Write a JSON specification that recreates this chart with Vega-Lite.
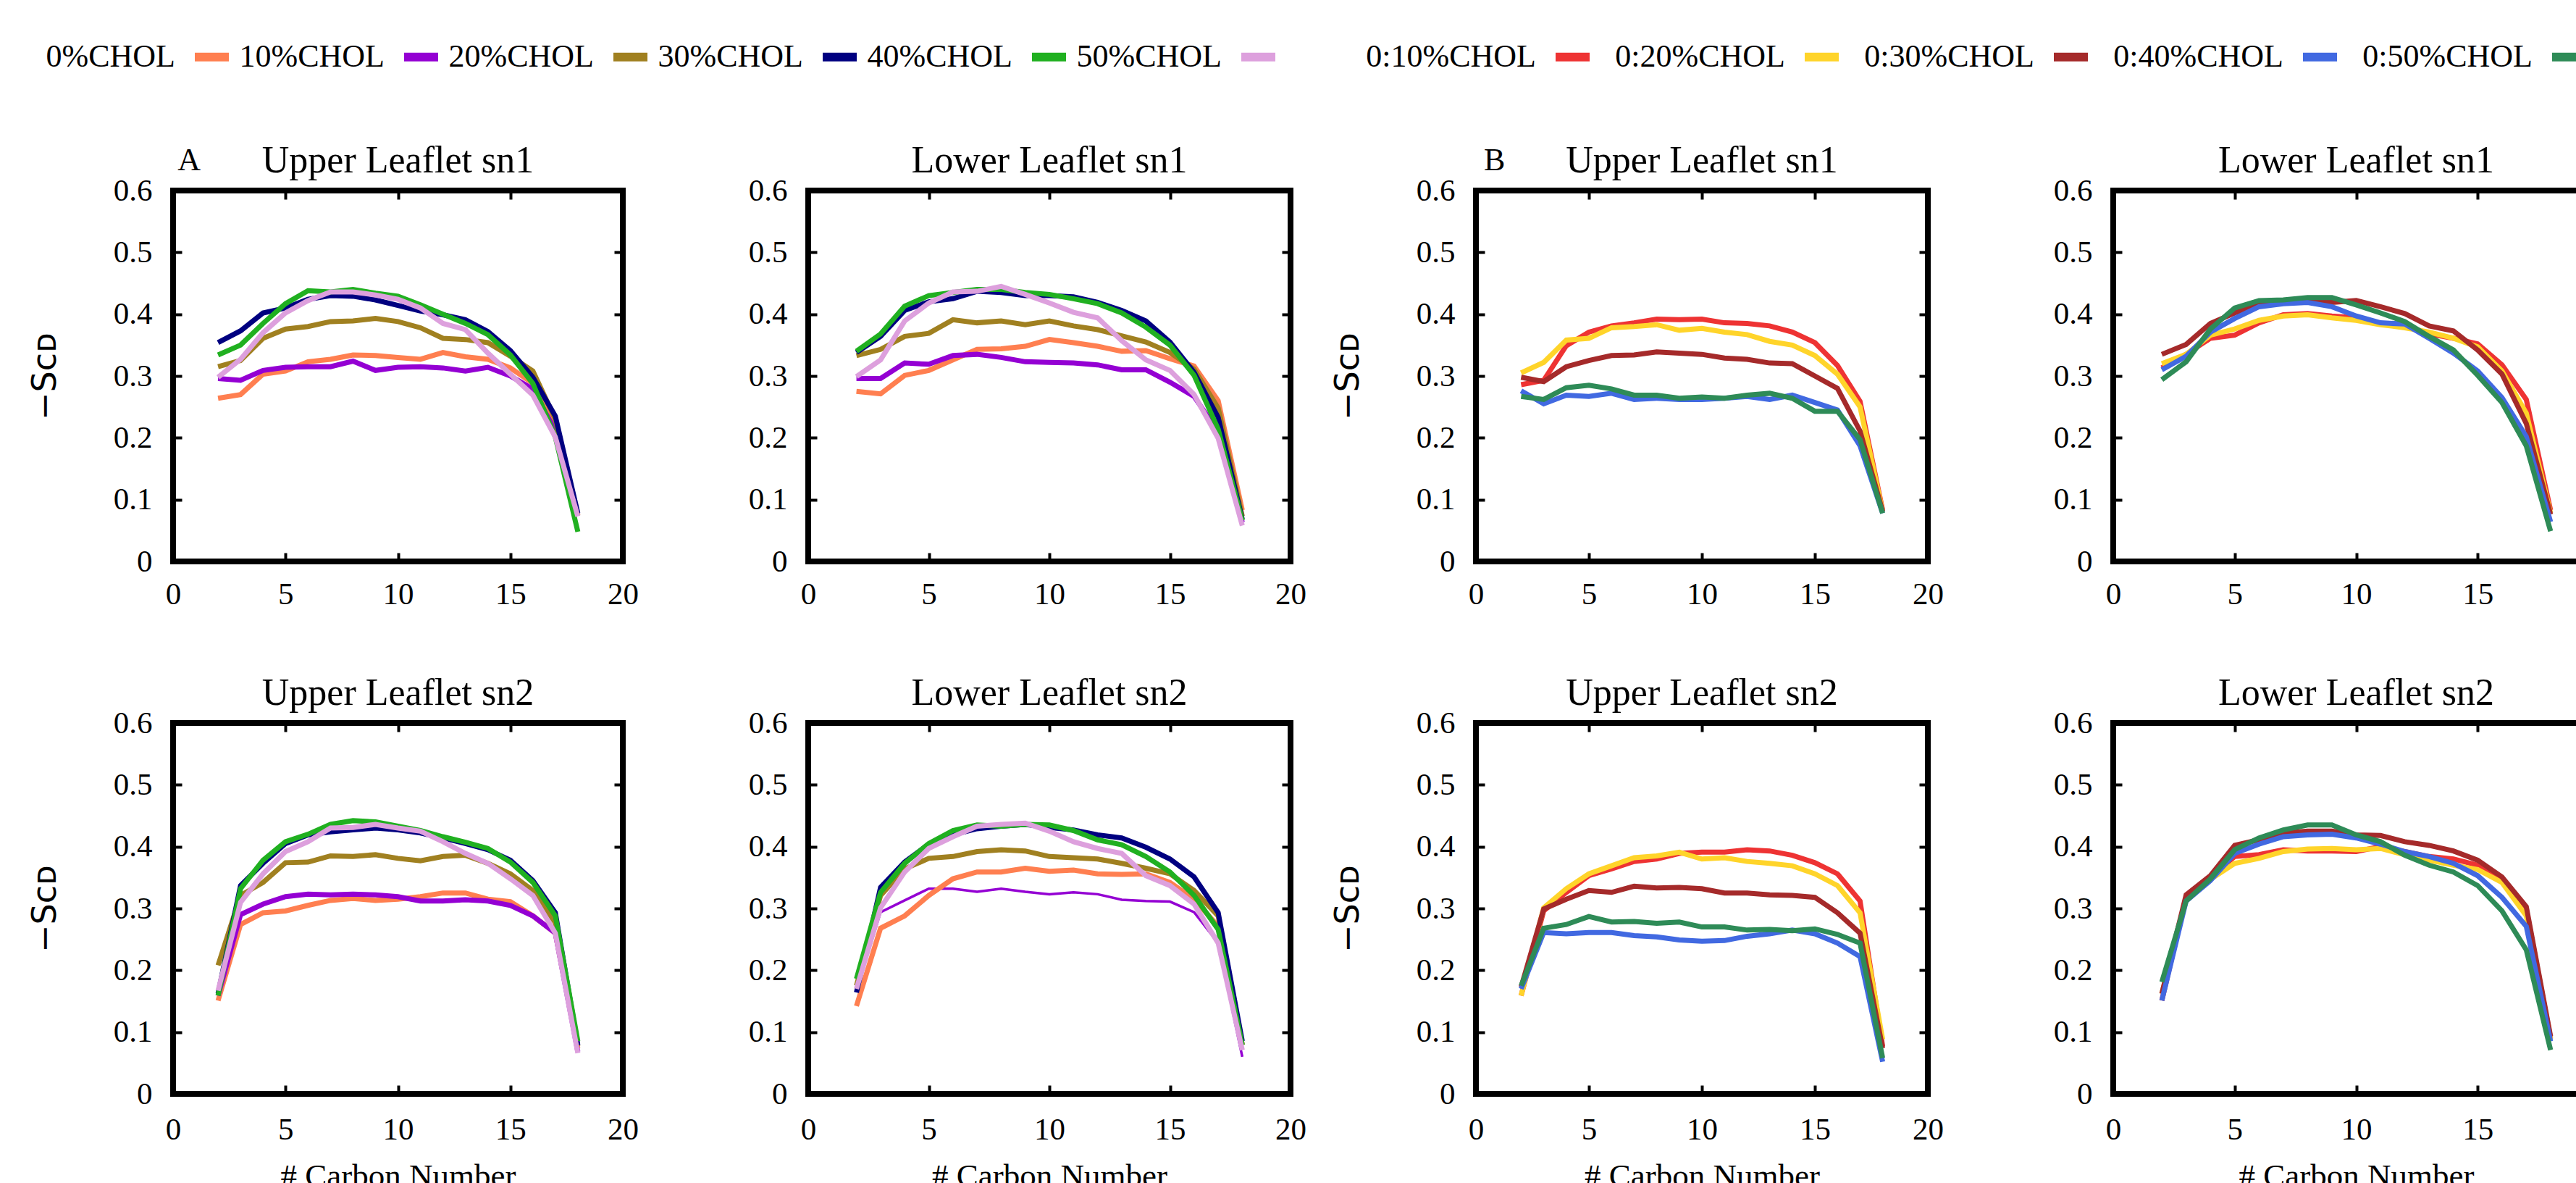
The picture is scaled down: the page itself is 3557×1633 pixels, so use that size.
{
"$schema":"https://vega.github.io/schema/vega-lite/v6.json",
"background":"white",
"padding":{"left":35,"top":49,"right":0,"bottom":0},
"columns":4,
"spacing":{"row":223,"column":256},
"bounds":"flush",
"align":"each",
"config":{
 "view":{"stroke":"black","strokeWidth":8},
 "axis":{"grid":false,"domain":false,"ticks":true,"tickColor":"black","tickWidth":4,"tickSize":-12,"labelFont":"Liberation Serif","labelFontSize":43,"labelColor":"black","labelPadding":41,"labelFlush":false,"labelOverlap":false,"titleFont":"Liberation Serif","titleFontSize":45,"titleFontWeight":"normal","titleColor":"black"},
 "axisLeft":{"titleFont":"DejaVu Sans","titleFontSize":46,"titlePadding":70},
 "axisBottom":{"titlePadding":20},
 "title":{"font":"Liberation Serif","fontSize":52,"fontWeight":"normal","color":"black","offset":-7,"anchor":"middle"}
},
"datasets":{
"a_u1":[
{"series":"0%CHOL","carbon":2,"scd":0.264},{"series":"0%CHOL","carbon":3,"scd":0.27},{"series":"0%CHOL","carbon":4,"scd":0.303},{"series":"0%CHOL","carbon":5,"scd":0.308},{"series":"0%CHOL","carbon":6,"scd":0.323},{"series":"0%CHOL","carbon":7,"scd":0.327},{"series":"0%CHOL","carbon":8,"scd":0.334},{"series":"0%CHOL","carbon":9,"scd":0.333},{"series":"0%CHOL","carbon":10,"scd":0.33},{"series":"0%CHOL","carbon":11,"scd":0.327},{"series":"0%CHOL","carbon":12,"scd":0.338},{"series":"0%CHOL","carbon":13,"scd":0.331},{"series":"0%CHOL","carbon":14,"scd":0.327},{"series":"0%CHOL","carbon":15,"scd":0.313},{"series":"0%CHOL","carbon":16,"scd":0.288},{"series":"0%CHOL","carbon":17,"scd":0.216},{"series":"0%CHOL","carbon":18,"scd":0.075},
{"series":"10%CHOL","carbon":2,"scd":0.296},{"series":"10%CHOL","carbon":3,"scd":0.293},{"series":"10%CHOL","carbon":4,"scd":0.309},{"series":"10%CHOL","carbon":5,"scd":0.314},{"series":"10%CHOL","carbon":6,"scd":0.315},{"series":"10%CHOL","carbon":7,"scd":0.315},{"series":"10%CHOL","carbon":8,"scd":0.324},{"series":"10%CHOL","carbon":9,"scd":0.309},{"series":"10%CHOL","carbon":10,"scd":0.314},{"series":"10%CHOL","carbon":11,"scd":0.315},{"series":"10%CHOL","carbon":12,"scd":0.313},{"series":"10%CHOL","carbon":13,"scd":0.308},{"series":"10%CHOL","carbon":14,"scd":0.314},{"series":"10%CHOL","carbon":15,"scd":0.3},{"series":"10%CHOL","carbon":16,"scd":0.279},{"series":"10%CHOL","carbon":17,"scd":0.211},{"series":"10%CHOL","carbon":18,"scd":0.075},
{"series":"20%CHOL","carbon":2,"scd":0.315},{"series":"20%CHOL","carbon":3,"scd":0.325},{"series":"20%CHOL","carbon":4,"scd":0.361},{"series":"20%CHOL","carbon":5,"scd":0.376},{"series":"20%CHOL","carbon":6,"scd":0.38},{"series":"20%CHOL","carbon":7,"scd":0.388},{"series":"20%CHOL","carbon":8,"scd":0.389},{"series":"20%CHOL","carbon":9,"scd":0.393},{"series":"20%CHOL","carbon":10,"scd":0.388},{"series":"20%CHOL","carbon":11,"scd":0.378},{"series":"20%CHOL","carbon":12,"scd":0.361},{"series":"20%CHOL","carbon":13,"scd":0.359},{"series":"20%CHOL","carbon":14,"scd":0.354},{"series":"20%CHOL","carbon":15,"scd":0.332},{"series":"20%CHOL","carbon":16,"scd":0.308},{"series":"20%CHOL","carbon":17,"scd":0.23},{"series":"20%CHOL","carbon":18,"scd":0.075},
{"series":"30%CHOL","carbon":2,"scd":0.354},{"series":"30%CHOL","carbon":3,"scd":0.373},{"series":"30%CHOL","carbon":4,"scd":0.402},{"series":"30%CHOL","carbon":5,"scd":0.41},{"series":"30%CHOL","carbon":6,"scd":0.424},{"series":"30%CHOL","carbon":7,"scd":0.43},{"series":"30%CHOL","carbon":8,"scd":0.429},{"series":"30%CHOL","carbon":9,"scd":0.423},{"series":"30%CHOL","carbon":10,"scd":0.414},{"series":"30%CHOL","carbon":11,"scd":0.405},{"series":"30%CHOL","carbon":12,"scd":0.399},{"series":"30%CHOL","carbon":13,"scd":0.391},{"series":"30%CHOL","carbon":14,"scd":0.372},{"series":"30%CHOL","carbon":15,"scd":0.341},{"series":"30%CHOL","carbon":16,"scd":0.298},{"series":"30%CHOL","carbon":17,"scd":0.235},{"series":"30%CHOL","carbon":18,"scd":0.078},
{"series":"40%CHOL","carbon":2,"scd":0.334},{"series":"40%CHOL","carbon":3,"scd":0.35},{"series":"40%CHOL","carbon":4,"scd":0.385},{"series":"40%CHOL","carbon":5,"scd":0.417},{"series":"40%CHOL","carbon":6,"scd":0.438},{"series":"40%CHOL","carbon":7,"scd":0.436},{"series":"40%CHOL","carbon":8,"scd":0.44},{"series":"40%CHOL","carbon":9,"scd":0.434},{"series":"40%CHOL","carbon":10,"scd":0.429},{"series":"40%CHOL","carbon":11,"scd":0.415},{"series":"40%CHOL","carbon":12,"scd":0.4},{"series":"40%CHOL","carbon":13,"scd":0.385},{"series":"40%CHOL","carbon":14,"scd":0.367},{"series":"40%CHOL","carbon":15,"scd":0.334},{"series":"40%CHOL","carbon":16,"scd":0.288},{"series":"40%CHOL","carbon":17,"scd":0.201},{"series":"40%CHOL","carbon":18,"scd":0.048},
{"series":"50%CHOL","carbon":2,"scd":0.298},{"series":"50%CHOL","carbon":3,"scd":0.327},{"series":"50%CHOL","carbon":4,"scd":0.37},{"series":"50%CHOL","carbon":5,"scd":0.402},{"series":"50%CHOL","carbon":6,"scd":0.422},{"series":"50%CHOL","carbon":7,"scd":0.436},{"series":"50%CHOL","carbon":8,"scd":0.436},{"series":"50%CHOL","carbon":9,"scd":0.431},{"series":"50%CHOL","carbon":10,"scd":0.424},{"series":"50%CHOL","carbon":11,"scd":0.41},{"series":"50%CHOL","carbon":12,"scd":0.385},{"series":"50%CHOL","carbon":13,"scd":0.375},{"series":"50%CHOL","carbon":14,"scd":0.337},{"series":"50%CHOL","carbon":15,"scd":0.303},{"series":"50%CHOL","carbon":16,"scd":0.269},{"series":"50%CHOL","carbon":17,"scd":0.201},{"series":"50%CHOL","carbon":18,"scd":0.073}
],
"a_l1":[
{"series":"0%CHOL","carbon":2,"scd":0.275},{"series":"0%CHOL","carbon":3,"scd":0.271},{"series":"0%CHOL","carbon":4,"scd":0.301},{"series":"0%CHOL","carbon":5,"scd":0.309},{"series":"0%CHOL","carbon":6,"scd":0.326},{"series":"0%CHOL","carbon":7,"scd":0.343},{"series":"0%CHOL","carbon":8,"scd":0.344},{"series":"0%CHOL","carbon":9,"scd":0.348},{"series":"0%CHOL","carbon":10,"scd":0.359},{"series":"0%CHOL","carbon":11,"scd":0.354},{"series":"0%CHOL","carbon":12,"scd":0.348},{"series":"0%CHOL","carbon":13,"scd":0.34},{"series":"0%CHOL","carbon":14,"scd":0.341},{"series":"0%CHOL","carbon":15,"scd":0.328},{"series":"0%CHOL","carbon":16,"scd":0.316},{"series":"0%CHOL","carbon":17,"scd":0.26},{"series":"0%CHOL","carbon":18,"scd":0.083},
{"series":"10%CHOL","carbon":2,"scd":0.296},{"series":"10%CHOL","carbon":3,"scd":0.296},{"series":"10%CHOL","carbon":4,"scd":0.321},{"series":"10%CHOL","carbon":5,"scd":0.319},{"series":"10%CHOL","carbon":6,"scd":0.333},{"series":"10%CHOL","carbon":7,"scd":0.335},{"series":"10%CHOL","carbon":8,"scd":0.33},{"series":"10%CHOL","carbon":9,"scd":0.323},{"series":"10%CHOL","carbon":10,"scd":0.322},{"series":"10%CHOL","carbon":11,"scd":0.321},{"series":"10%CHOL","carbon":12,"scd":0.318},{"series":"10%CHOL","carbon":13,"scd":0.31},{"series":"10%CHOL","carbon":14,"scd":0.31},{"series":"10%CHOL","carbon":15,"scd":0.29},{"series":"10%CHOL","carbon":16,"scd":0.267},{"series":"10%CHOL","carbon":17,"scd":0.209},{"series":"10%CHOL","carbon":18,"scd":0.063},
{"series":"20%CHOL","carbon":2,"scd":0.333},{"series":"20%CHOL","carbon":3,"scd":0.343},{"series":"20%CHOL","carbon":4,"scd":0.364},{"series":"20%CHOL","carbon":5,"scd":0.369},{"series":"20%CHOL","carbon":6,"scd":0.391},{"series":"20%CHOL","carbon":7,"scd":0.386},{"series":"20%CHOL","carbon":8,"scd":0.389},{"series":"20%CHOL","carbon":9,"scd":0.383},{"series":"20%CHOL","carbon":10,"scd":0.389},{"series":"20%CHOL","carbon":11,"scd":0.381},{"series":"20%CHOL","carbon":12,"scd":0.375},{"series":"20%CHOL","carbon":13,"scd":0.365},{"series":"20%CHOL","carbon":14,"scd":0.355},{"series":"20%CHOL","carbon":15,"scd":0.338},{"series":"20%CHOL","carbon":16,"scd":0.311},{"series":"20%CHOL","carbon":17,"scd":0.248},{"series":"20%CHOL","carbon":18,"scd":0.073},
{"series":"30%CHOL","carbon":2,"scd":0.338},{"series":"30%CHOL","carbon":3,"scd":0.364},{"series":"30%CHOL","carbon":4,"scd":0.406},{"series":"30%CHOL","carbon":5,"scd":0.42},{"series":"30%CHOL","carbon":6,"scd":0.425},{"series":"30%CHOL","carbon":7,"scd":0.437},{"series":"30%CHOL","carbon":8,"scd":0.435},{"series":"30%CHOL","carbon":9,"scd":0.43},{"series":"30%CHOL","carbon":10,"scd":0.43},{"series":"30%CHOL","carbon":11,"scd":0.428},{"series":"30%CHOL","carbon":12,"scd":0.419},{"series":"30%CHOL","carbon":13,"scd":0.406},{"series":"30%CHOL","carbon":14,"scd":0.389},{"series":"30%CHOL","carbon":15,"scd":0.355},{"series":"30%CHOL","carbon":16,"scd":0.306},{"series":"30%CHOL","carbon":17,"scd":0.233},{"series":"30%CHOL","carbon":18,"scd":0.068},
{"series":"40%CHOL","carbon":2,"scd":0.34},{"series":"40%CHOL","carbon":3,"scd":0.368},{"series":"40%CHOL","carbon":4,"scd":0.413},{"series":"40%CHOL","carbon":5,"scd":0.43},{"series":"40%CHOL","carbon":6,"scd":0.435},{"series":"40%CHOL","carbon":7,"scd":0.44},{"series":"40%CHOL","carbon":8,"scd":0.44},{"series":"40%CHOL","carbon":9,"scd":0.435},{"series":"40%CHOL","carbon":10,"scd":0.432},{"series":"40%CHOL","carbon":11,"scd":0.425},{"series":"40%CHOL","carbon":12,"scd":0.417},{"series":"40%CHOL","carbon":13,"scd":0.402},{"series":"40%CHOL","carbon":14,"scd":0.379},{"series":"40%CHOL","carbon":15,"scd":0.35},{"series":"40%CHOL","carbon":16,"scd":0.301},{"series":"40%CHOL","carbon":17,"scd":0.214},{"series":"40%CHOL","carbon":18,"scd":0.066},
{"series":"50%CHOL","carbon":2,"scd":0.299},{"series":"50%CHOL","carbon":3,"scd":0.326},{"series":"50%CHOL","carbon":4,"scd":0.389},{"series":"50%CHOL","carbon":5,"scd":0.418},{"series":"50%CHOL","carbon":6,"scd":0.436},{"series":"50%CHOL","carbon":7,"scd":0.437},{"series":"50%CHOL","carbon":8,"scd":0.445},{"series":"50%CHOL","carbon":9,"scd":0.432},{"series":"50%CHOL","carbon":10,"scd":0.418},{"series":"50%CHOL","carbon":11,"scd":0.403},{"series":"50%CHOL","carbon":12,"scd":0.394},{"series":"50%CHOL","carbon":13,"scd":0.357},{"series":"50%CHOL","carbon":14,"scd":0.326},{"series":"50%CHOL","carbon":15,"scd":0.309},{"series":"50%CHOL","carbon":16,"scd":0.27},{"series":"50%CHOL","carbon":17,"scd":0.199},{"series":"50%CHOL","carbon":18,"scd":0.058}
],
"a_u2":[
{"series":"0%CHOL","carbon":2,"scd":0.151},{"series":"0%CHOL","carbon":3,"scd":0.274},{"series":"0%CHOL","carbon":4,"scd":0.293},{"series":"0%CHOL","carbon":5,"scd":0.296},{"series":"0%CHOL","carbon":6,"scd":0.305},{"series":"0%CHOL","carbon":7,"scd":0.313},{"series":"0%CHOL","carbon":8,"scd":0.316},{"series":"0%CHOL","carbon":9,"scd":0.313},{"series":"0%CHOL","carbon":10,"scd":0.315},{"series":"0%CHOL","carbon":11,"scd":0.319},{"series":"0%CHOL","carbon":12,"scd":0.325},{"series":"0%CHOL","carbon":13,"scd":0.325},{"series":"0%CHOL","carbon":14,"scd":0.315},{"series":"0%CHOL","carbon":15,"scd":0.311},{"series":"0%CHOL","carbon":16,"scd":0.288},{"series":"0%CHOL","carbon":17,"scd":0.26},{"series":"0%CHOL","carbon":18,"scd":0.074},
{"series":"10%CHOL","carbon":2,"scd":0.159},{"series":"10%CHOL","carbon":3,"scd":0.29},{"series":"10%CHOL","carbon":4,"scd":0.307},{"series":"10%CHOL","carbon":5,"scd":0.319},{"series":"10%CHOL","carbon":6,"scd":0.323},{"series":"10%CHOL","carbon":7,"scd":0.322},{"series":"10%CHOL","carbon":8,"scd":0.323},{"series":"10%CHOL","carbon":9,"scd":0.322},{"series":"10%CHOL","carbon":10,"scd":0.319},{"series":"10%CHOL","carbon":11,"scd":0.312},{"series":"10%CHOL","carbon":12,"scd":0.312},{"series":"10%CHOL","carbon":13,"scd":0.314},{"series":"10%CHOL","carbon":14,"scd":0.312},{"series":"10%CHOL","carbon":15,"scd":0.305},{"series":"10%CHOL","carbon":16,"scd":0.288},{"series":"10%CHOL","carbon":17,"scd":0.26},{"series":"10%CHOL","carbon":18,"scd":0.068},
{"series":"20%CHOL","carbon":2,"scd":0.208},{"series":"20%CHOL","carbon":3,"scd":0.321},{"series":"20%CHOL","carbon":4,"scd":0.342},{"series":"20%CHOL","carbon":5,"scd":0.374},{"series":"20%CHOL","carbon":6,"scd":0.375},{"series":"20%CHOL","carbon":7,"scd":0.385},{"series":"20%CHOL","carbon":8,"scd":0.384},{"series":"20%CHOL","carbon":9,"scd":0.387},{"series":"20%CHOL","carbon":10,"scd":0.381},{"series":"20%CHOL","carbon":11,"scd":0.377},{"series":"20%CHOL","carbon":12,"scd":0.384},{"series":"20%CHOL","carbon":13,"scd":0.386},{"series":"20%CHOL","carbon":14,"scd":0.373},{"series":"20%CHOL","carbon":15,"scd":0.356},{"series":"20%CHOL","carbon":16,"scd":0.329},{"series":"20%CHOL","carbon":17,"scd":0.277},{"series":"20%CHOL","carbon":18,"scd":0.077},
{"series":"30%CHOL","carbon":2,"scd":0.162},{"series":"30%CHOL","carbon":3,"scd":0.337},{"series":"30%CHOL","carbon":4,"scd":0.373},{"series":"30%CHOL","carbon":5,"scd":0.405},{"series":"30%CHOL","carbon":6,"scd":0.419},{"series":"30%CHOL","carbon":7,"scd":0.424},{"series":"30%CHOL","carbon":8,"scd":0.427},{"series":"30%CHOL","carbon":9,"scd":0.43},{"series":"30%CHOL","carbon":10,"scd":0.427},{"series":"30%CHOL","carbon":11,"scd":0.422},{"series":"30%CHOL","carbon":12,"scd":0.414},{"series":"30%CHOL","carbon":13,"scd":0.405},{"series":"30%CHOL","carbon":14,"scd":0.395},{"series":"30%CHOL","carbon":15,"scd":0.378},{"series":"30%CHOL","carbon":16,"scd":0.345},{"series":"30%CHOL","carbon":17,"scd":0.293},{"series":"30%CHOL","carbon":18,"scd":0.079},
{"series":"40%CHOL","carbon":2,"scd":0.159},{"series":"40%CHOL","carbon":3,"scd":0.332},{"series":"40%CHOL","carbon":4,"scd":0.378},{"series":"40%CHOL","carbon":5,"scd":0.408},{"series":"40%CHOL","carbon":6,"scd":0.42},{"series":"40%CHOL","carbon":7,"scd":0.436},{"series":"40%CHOL","carbon":8,"scd":0.442},{"series":"40%CHOL","carbon":9,"scd":0.44},{"series":"40%CHOL","carbon":10,"scd":0.433},{"series":"40%CHOL","carbon":11,"scd":0.426},{"series":"40%CHOL","carbon":12,"scd":0.416},{"series":"40%CHOL","carbon":13,"scd":0.407},{"series":"40%CHOL","carbon":14,"scd":0.397},{"series":"40%CHOL","carbon":15,"scd":0.375},{"series":"40%CHOL","carbon":16,"scd":0.342},{"series":"40%CHOL","carbon":17,"scd":0.288},{"series":"40%CHOL","carbon":18,"scd":0.085},
{"series":"50%CHOL","carbon":2,"scd":0.167},{"series":"50%CHOL","carbon":3,"scd":0.31},{"series":"50%CHOL","carbon":4,"scd":0.356},{"series":"50%CHOL","carbon":5,"scd":0.392},{"series":"50%CHOL","carbon":6,"scd":0.408},{"series":"50%CHOL","carbon":7,"scd":0.43},{"series":"50%CHOL","carbon":8,"scd":0.431},{"series":"50%CHOL","carbon":9,"scd":0.436},{"series":"50%CHOL","carbon":10,"scd":0.43},{"series":"50%CHOL","carbon":11,"scd":0.425},{"series":"50%CHOL","carbon":12,"scd":0.408},{"series":"50%CHOL","carbon":13,"scd":0.389},{"series":"50%CHOL","carbon":14,"scd":0.373},{"series":"50%CHOL","carbon":15,"scd":0.348},{"series":"50%CHOL","carbon":16,"scd":0.321},{"series":"50%CHOL","carbon":17,"scd":0.26},{"series":"50%CHOL","carbon":18,"scd":0.066}
],
"a_l2":[
{"series":"0%CHOL","carbon":2,"scd":0.142},{"series":"0%CHOL","carbon":3,"scd":0.268},{"series":"0%CHOL","carbon":4,"scd":0.288},{"series":"0%CHOL","carbon":5,"scd":0.321},{"series":"0%CHOL","carbon":6,"scd":0.348},{"series":"0%CHOL","carbon":7,"scd":0.359},{"series":"0%CHOL","carbon":8,"scd":0.359},{"series":"0%CHOL","carbon":9,"scd":0.365},{"series":"0%CHOL","carbon":10,"scd":0.36},{"series":"0%CHOL","carbon":11,"scd":0.362},{"series":"0%CHOL","carbon":12,"scd":0.356},{"series":"0%CHOL","carbon":13,"scd":0.355},{"series":"0%CHOL","carbon":14,"scd":0.356},{"series":"0%CHOL","carbon":15,"scd":0.342},{"series":"0%CHOL","carbon":16,"scd":0.315},{"series":"0%CHOL","carbon":17,"scd":0.271},{"series":"0%CHOL","carbon":18,"scd":0.079},
{"series":"10%CHOL","carbon":2,"scd":0.168},{"series":"10%CHOL","carbon":3,"scd":0.294},{"series":"10%CHOL","carbon":4,"scd":0.313},{"series":"10%CHOL","carbon":5,"scd":0.332},{"series":"10%CHOL","carbon":6,"scd":0.332},{"series":"10%CHOL","carbon":7,"scd":0.327},{"series":"10%CHOL","carbon":8,"scd":0.332},{"series":"10%CHOL","carbon":9,"scd":0.327},{"series":"10%CHOL","carbon":10,"scd":0.323},{"series":"10%CHOL","carbon":11,"scd":0.326},{"series":"10%CHOL","carbon":12,"scd":0.323},{"series":"10%CHOL","carbon":13,"scd":0.314},{"series":"10%CHOL","carbon":14,"scd":0.312},{"series":"10%CHOL","carbon":15,"scd":0.311},{"series":"10%CHOL","carbon":16,"scd":0.294},{"series":"10%CHOL","carbon":17,"scd":0.244},{"series":"10%CHOL","carbon":18,"scd":0.06},
{"series":"20%CHOL","carbon":2,"scd":0.175},{"series":"20%CHOL","carbon":3,"scd":0.321},{"series":"20%CHOL","carbon":4,"scd":0.364},{"series":"20%CHOL","carbon":5,"scd":0.381},{"series":"20%CHOL","carbon":6,"scd":0.384},{"series":"20%CHOL","carbon":7,"scd":0.392},{"series":"20%CHOL","carbon":8,"scd":0.395},{"series":"20%CHOL","carbon":9,"scd":0.393},{"series":"20%CHOL","carbon":10,"scd":0.384},{"series":"20%CHOL","carbon":11,"scd":0.382},{"series":"20%CHOL","carbon":12,"scd":0.38},{"series":"20%CHOL","carbon":13,"scd":0.373},{"series":"20%CHOL","carbon":14,"scd":0.365},{"series":"20%CHOL","carbon":15,"scd":0.356},{"series":"20%CHOL","carbon":16,"scd":0.329},{"series":"20%CHOL","carbon":17,"scd":0.288},{"series":"20%CHOL","carbon":18,"scd":0.079},
{"series":"30%CHOL","carbon":2,"scd":0.164},{"series":"30%CHOL","carbon":3,"scd":0.334},{"series":"30%CHOL","carbon":4,"scd":0.375},{"series":"30%CHOL","carbon":5,"scd":0.404},{"series":"30%CHOL","carbon":6,"scd":0.419},{"series":"30%CHOL","carbon":7,"scd":0.429},{"series":"30%CHOL","carbon":8,"scd":0.433},{"series":"30%CHOL","carbon":9,"scd":0.436},{"series":"30%CHOL","carbon":10,"scd":0.431},{"series":"30%CHOL","carbon":11,"scd":0.427},{"series":"30%CHOL","carbon":12,"scd":0.419},{"series":"30%CHOL","carbon":13,"scd":0.414},{"series":"30%CHOL","carbon":14,"scd":0.399},{"series":"30%CHOL","carbon":15,"scd":0.38},{"series":"30%CHOL","carbon":16,"scd":0.351},{"series":"30%CHOL","carbon":17,"scd":0.293},{"series":"30%CHOL","carbon":18,"scd":0.085},
{"series":"40%CHOL","carbon":2,"scd":0.186},{"series":"40%CHOL","carbon":3,"scd":0.326},{"series":"40%CHOL","carbon":4,"scd":0.373},{"series":"40%CHOL","carbon":5,"scd":0.405},{"series":"40%CHOL","carbon":6,"scd":0.426},{"series":"40%CHOL","carbon":7,"scd":0.435},{"series":"40%CHOL","carbon":8,"scd":0.433},{"series":"40%CHOL","carbon":9,"scd":0.436},{"series":"40%CHOL","carbon":10,"scd":0.435},{"series":"40%CHOL","carbon":11,"scd":0.426},{"series":"40%CHOL","carbon":12,"scd":0.411},{"series":"40%CHOL","carbon":13,"scd":0.403},{"series":"40%CHOL","carbon":14,"scd":0.384},{"series":"40%CHOL","carbon":15,"scd":0.359},{"series":"40%CHOL","carbon":16,"scd":0.321},{"series":"40%CHOL","carbon":17,"scd":0.266},{"series":"40%CHOL","carbon":18,"scd":0.079},
{"series":"50%CHOL","carbon":2,"scd":0.17},{"series":"50%CHOL","carbon":3,"scd":0.301},{"series":"50%CHOL","carbon":4,"scd":0.359},{"series":"50%CHOL","carbon":5,"scd":0.397},{"series":"50%CHOL","carbon":6,"scd":0.416},{"series":"50%CHOL","carbon":7,"scd":0.433},{"series":"50%CHOL","carbon":8,"scd":0.436},{"series":"50%CHOL","carbon":9,"scd":0.438},{"series":"50%CHOL","carbon":10,"scd":0.425},{"series":"50%CHOL","carbon":11,"scd":0.408},{"series":"50%CHOL","carbon":12,"scd":0.397},{"series":"50%CHOL","carbon":13,"scd":0.389},{"series":"50%CHOL","carbon":14,"scd":0.353},{"series":"50%CHOL","carbon":15,"scd":0.337},{"series":"50%CHOL","carbon":16,"scd":0.307},{"series":"50%CHOL","carbon":17,"scd":0.244},{"series":"50%CHOL","carbon":18,"scd":0.071}
],
"b_u1":[
{"series":"0:10%CHOL","carbon":2,"scd":0.286},{"series":"0:10%CHOL","carbon":3,"scd":0.293},{"series":"0:10%CHOL","carbon":4,"scd":0.349},{"series":"0:10%CHOL","carbon":5,"scd":0.371},{"series":"0:10%CHOL","carbon":6,"scd":0.381},{"series":"0:10%CHOL","carbon":7,"scd":0.386},{"series":"0:10%CHOL","carbon":8,"scd":0.392},{"series":"0:10%CHOL","carbon":9,"scd":0.391},{"series":"0:10%CHOL","carbon":10,"scd":0.392},{"series":"0:10%CHOL","carbon":11,"scd":0.386},{"series":"0:10%CHOL","carbon":12,"scd":0.385},{"series":"0:10%CHOL","carbon":13,"scd":0.381},{"series":"0:10%CHOL","carbon":14,"scd":0.371},{"series":"0:10%CHOL","carbon":15,"scd":0.354},{"series":"0:10%CHOL","carbon":16,"scd":0.317},{"series":"0:10%CHOL","carbon":17,"scd":0.259},{"series":"0:10%CHOL","carbon":18,"scd":0.083},
{"series":"0:20%CHOL","carbon":2,"scd":0.305},{"series":"0:20%CHOL","carbon":3,"scd":0.322},{"series":"0:20%CHOL","carbon":4,"scd":0.358},{"series":"0:20%CHOL","carbon":5,"scd":0.361},{"series":"0:20%CHOL","carbon":6,"scd":0.378},{"series":"0:20%CHOL","carbon":7,"scd":0.38},{"series":"0:20%CHOL","carbon":8,"scd":0.383},{"series":"0:20%CHOL","carbon":9,"scd":0.374},{"series":"0:20%CHOL","carbon":10,"scd":0.377},{"series":"0:20%CHOL","carbon":11,"scd":0.371},{"series":"0:20%CHOL","carbon":12,"scd":0.367},{"series":"0:20%CHOL","carbon":13,"scd":0.356},{"series":"0:20%CHOL","carbon":14,"scd":0.35},{"series":"0:20%CHOL","carbon":15,"scd":0.333},{"series":"0:20%CHOL","carbon":16,"scd":0.303},{"series":"0:20%CHOL","carbon":17,"scd":0.25},{"series":"0:20%CHOL","carbon":18,"scd":0.081},
{"series":"0:30%CHOL","carbon":2,"scd":0.298},{"series":"0:30%CHOL","carbon":3,"scd":0.291},{"series":"0:30%CHOL","carbon":4,"scd":0.315},{"series":"0:30%CHOL","carbon":5,"scd":0.325},{"series":"0:30%CHOL","carbon":6,"scd":0.333},{"series":"0:30%CHOL","carbon":7,"scd":0.334},{"series":"0:30%CHOL","carbon":8,"scd":0.339},{"series":"0:30%CHOL","carbon":9,"scd":0.337},{"series":"0:30%CHOL","carbon":10,"scd":0.335},{"series":"0:30%CHOL","carbon":11,"scd":0.329},{"series":"0:30%CHOL","carbon":12,"scd":0.327},{"series":"0:30%CHOL","carbon":13,"scd":0.321},{"series":"0:30%CHOL","carbon":14,"scd":0.32},{"series":"0:30%CHOL","carbon":15,"scd":0.3},{"series":"0:30%CHOL","carbon":16,"scd":0.28},{"series":"0:30%CHOL","carbon":17,"scd":0.211},{"series":"0:30%CHOL","carbon":18,"scd":0.081},
{"series":"0:40%CHOL","carbon":2,"scd":0.276},{"series":"0:40%CHOL","carbon":3,"scd":0.255},{"series":"0:40%CHOL","carbon":4,"scd":0.269},{"series":"0:40%CHOL","carbon":5,"scd":0.267},{"series":"0:40%CHOL","carbon":6,"scd":0.272},{"series":"0:40%CHOL","carbon":7,"scd":0.262},{"series":"0:40%CHOL","carbon":8,"scd":0.264},{"series":"0:40%CHOL","carbon":9,"scd":0.262},{"series":"0:40%CHOL","carbon":10,"scd":0.262},{"series":"0:40%CHOL","carbon":11,"scd":0.264},{"series":"0:40%CHOL","carbon":12,"scd":0.267},{"series":"0:40%CHOL","carbon":13,"scd":0.262},{"series":"0:40%CHOL","carbon":14,"scd":0.269},{"series":"0:40%CHOL","carbon":15,"scd":0.257},{"series":"0:40%CHOL","carbon":16,"scd":0.245},{"series":"0:40%CHOL","carbon":17,"scd":0.187},{"series":"0:40%CHOL","carbon":18,"scd":0.078},
{"series":"0:50%CHOL","carbon":2,"scd":0.267},{"series":"0:50%CHOL","carbon":3,"scd":0.262},{"series":"0:50%CHOL","carbon":4,"scd":0.281},{"series":"0:50%CHOL","carbon":5,"scd":0.285},{"series":"0:50%CHOL","carbon":6,"scd":0.279},{"series":"0:50%CHOL","carbon":7,"scd":0.269},{"series":"0:50%CHOL","carbon":8,"scd":0.269},{"series":"0:50%CHOL","carbon":9,"scd":0.264},{"series":"0:50%CHOL","carbon":10,"scd":0.266},{"series":"0:50%CHOL","carbon":11,"scd":0.264},{"series":"0:50%CHOL","carbon":12,"scd":0.269},{"series":"0:50%CHOL","carbon":13,"scd":0.272},{"series":"0:50%CHOL","carbon":14,"scd":0.264},{"series":"0:50%CHOL","carbon":15,"scd":0.243},{"series":"0:50%CHOL","carbon":16,"scd":0.243},{"series":"0:50%CHOL","carbon":17,"scd":0.197},{"series":"0:50%CHOL","carbon":18,"scd":0.078}
],
"b_l1":[
{"series":"0:10%CHOL","carbon":2,"scd":0.313},{"series":"0:10%CHOL","carbon":3,"scd":0.335},{"series":"0:10%CHOL","carbon":4,"scd":0.361},{"series":"0:10%CHOL","carbon":5,"scd":0.366},{"series":"0:10%CHOL","carbon":6,"scd":0.386},{"series":"0:10%CHOL","carbon":7,"scd":0.399},{"series":"0:10%CHOL","carbon":8,"scd":0.401},{"series":"0:10%CHOL","carbon":9,"scd":0.397},{"series":"0:10%CHOL","carbon":10,"scd":0.394},{"series":"0:10%CHOL","carbon":11,"scd":0.385},{"series":"0:10%CHOL","carbon":12,"scd":0.381},{"series":"0:10%CHOL","carbon":13,"scd":0.368},{"series":"0:10%CHOL","carbon":14,"scd":0.361},{"series":"0:10%CHOL","carbon":15,"scd":0.352},{"series":"0:10%CHOL","carbon":16,"scd":0.318},{"series":"0:10%CHOL","carbon":17,"scd":0.262},{"series":"0:10%CHOL","carbon":18,"scd":0.083},
{"series":"0:20%CHOL","carbon":2,"scd":0.32},{"series":"0:20%CHOL","carbon":3,"scd":0.335},{"series":"0:20%CHOL","carbon":4,"scd":0.366},{"series":"0:20%CHOL","carbon":5,"scd":0.376},{"series":"0:20%CHOL","carbon":6,"scd":0.39},{"series":"0:20%CHOL","carbon":7,"scd":0.397},{"series":"0:20%CHOL","carbon":8,"scd":0.399},{"series":"0:20%CHOL","carbon":9,"scd":0.394},{"series":"0:20%CHOL","carbon":10,"scd":0.39},{"series":"0:20%CHOL","carbon":11,"scd":0.383},{"series":"0:20%CHOL","carbon":12,"scd":0.378},{"series":"0:20%CHOL","carbon":13,"scd":0.371},{"series":"0:20%CHOL","carbon":14,"scd":0.361},{"series":"0:20%CHOL","carbon":15,"scd":0.347},{"series":"0:20%CHOL","carbon":16,"scd":0.308},{"series":"0:20%CHOL","carbon":17,"scd":0.24},{"series":"0:20%CHOL","carbon":18,"scd":0.078},
{"series":"0:30%CHOL","carbon":2,"scd":0.335},{"series":"0:30%CHOL","carbon":3,"scd":0.351},{"series":"0:30%CHOL","carbon":4,"scd":0.385},{"series":"0:30%CHOL","carbon":5,"scd":0.402},{"series":"0:30%CHOL","carbon":6,"scd":0.417},{"series":"0:30%CHOL","carbon":7,"scd":0.42},{"series":"0:30%CHOL","carbon":8,"scd":0.422},{"series":"0:30%CHOL","carbon":9,"scd":0.419},{"series":"0:30%CHOL","carbon":10,"scd":0.422},{"series":"0:30%CHOL","carbon":11,"scd":0.412},{"series":"0:30%CHOL","carbon":12,"scd":0.401},{"series":"0:30%CHOL","carbon":13,"scd":0.381},{"series":"0:30%CHOL","carbon":14,"scd":0.373},{"series":"0:30%CHOL","carbon":15,"scd":0.342},{"series":"0:30%CHOL","carbon":16,"scd":0.303},{"series":"0:30%CHOL","carbon":17,"scd":0.223},{"series":"0:30%CHOL","carbon":18,"scd":0.076},
{"series":"0:40%CHOL","carbon":2,"scd":0.31},{"series":"0:40%CHOL","carbon":3,"scd":0.332},{"series":"0:40%CHOL","carbon":4,"scd":0.371},{"series":"0:40%CHOL","carbon":5,"scd":0.393},{"series":"0:40%CHOL","carbon":6,"scd":0.412},{"series":"0:40%CHOL","carbon":7,"scd":0.417},{"series":"0:40%CHOL","carbon":8,"scd":0.419},{"series":"0:40%CHOL","carbon":9,"scd":0.412},{"series":"0:40%CHOL","carbon":10,"scd":0.397},{"series":"0:40%CHOL","carbon":11,"scd":0.386},{"series":"0:40%CHOL","carbon":12,"scd":0.384},{"series":"0:40%CHOL","carbon":13,"scd":0.361},{"series":"0:40%CHOL","carbon":14,"scd":0.337},{"series":"0:40%CHOL","carbon":15,"scd":0.308},{"series":"0:40%CHOL","carbon":16,"scd":0.265},{"series":"0:40%CHOL","carbon":17,"scd":0.202},{"series":"0:40%CHOL","carbon":18,"scd":0.064},
{"series":"0:50%CHOL","carbon":2,"scd":0.294},{"series":"0:50%CHOL","carbon":3,"scd":0.323},{"series":"0:50%CHOL","carbon":4,"scd":0.376},{"series":"0:50%CHOL","carbon":5,"scd":0.41},{"series":"0:50%CHOL","carbon":6,"scd":0.422},{"series":"0:50%CHOL","carbon":7,"scd":0.423},{"series":"0:50%CHOL","carbon":8,"scd":0.427},{"series":"0:50%CHOL","carbon":9,"scd":0.427},{"series":"0:50%CHOL","carbon":10,"scd":0.415},{"series":"0:50%CHOL","carbon":11,"scd":0.402},{"series":"0:50%CHOL","carbon":12,"scd":0.388},{"series":"0:50%CHOL","carbon":13,"scd":0.364},{"series":"0:50%CHOL","carbon":14,"scd":0.342},{"series":"0:50%CHOL","carbon":15,"scd":0.301},{"series":"0:50%CHOL","carbon":16,"scd":0.257},{"series":"0:50%CHOL","carbon":17,"scd":0.187},{"series":"0:50%CHOL","carbon":18,"scd":0.049}
],
"b_u2":[
{"series":"0:10%CHOL","carbon":2,"scd":0.159},{"series":"0:10%CHOL","carbon":3,"scd":0.296},{"series":"0:10%CHOL","carbon":4,"scd":0.326},{"series":"0:10%CHOL","carbon":5,"scd":0.353},{"series":"0:10%CHOL","carbon":6,"scd":0.364},{"series":"0:10%CHOL","carbon":7,"scd":0.376},{"series":"0:10%CHOL","carbon":8,"scd":0.38},{"series":"0:10%CHOL","carbon":9,"scd":0.389},{"series":"0:10%CHOL","carbon":10,"scd":0.391},{"series":"0:10%CHOL","carbon":11,"scd":0.391},{"series":"0:10%CHOL","carbon":12,"scd":0.395},{"series":"0:10%CHOL","carbon":13,"scd":0.393},{"series":"0:10%CHOL","carbon":14,"scd":0.386},{"series":"0:10%CHOL","carbon":15,"scd":0.374},{"series":"0:10%CHOL","carbon":16,"scd":0.356},{"series":"0:10%CHOL","carbon":17,"scd":0.312},{"series":"0:10%CHOL","carbon":18,"scd":0.077},
{"series":"0:20%CHOL","carbon":2,"scd":0.159},{"series":"0:20%CHOL","carbon":3,"scd":0.301},{"series":"0:20%CHOL","carbon":4,"scd":0.332},{"series":"0:20%CHOL","carbon":5,"scd":0.356},{"series":"0:20%CHOL","carbon":6,"scd":0.369},{"series":"0:20%CHOL","carbon":7,"scd":0.382},{"series":"0:20%CHOL","carbon":8,"scd":0.385},{"series":"0:20%CHOL","carbon":9,"scd":0.391},{"series":"0:20%CHOL","carbon":10,"scd":0.38},{"series":"0:20%CHOL","carbon":11,"scd":0.382},{"series":"0:20%CHOL","carbon":12,"scd":0.376},{"series":"0:20%CHOL","carbon":13,"scd":0.373},{"series":"0:20%CHOL","carbon":14,"scd":0.369},{"series":"0:20%CHOL","carbon":15,"scd":0.356},{"series":"0:20%CHOL","carbon":16,"scd":0.337},{"series":"0:20%CHOL","carbon":17,"scd":0.293},{"series":"0:20%CHOL","carbon":18,"scd":0.088},
{"series":"0:30%CHOL","carbon":2,"scd":0.173},{"series":"0:30%CHOL","carbon":3,"scd":0.299},{"series":"0:30%CHOL","carbon":4,"scd":0.315},{"series":"0:30%CHOL","carbon":5,"scd":0.329},{"series":"0:30%CHOL","carbon":6,"scd":0.326},{"series":"0:30%CHOL","carbon":7,"scd":0.336},{"series":"0:30%CHOL","carbon":8,"scd":0.333},{"series":"0:30%CHOL","carbon":9,"scd":0.334},{"series":"0:30%CHOL","carbon":10,"scd":0.332},{"series":"0:30%CHOL","carbon":11,"scd":0.325},{"series":"0:30%CHOL","carbon":12,"scd":0.325},{"series":"0:30%CHOL","carbon":13,"scd":0.322},{"series":"0:30%CHOL","carbon":14,"scd":0.321},{"series":"0:30%CHOL","carbon":15,"scd":0.318},{"series":"0:30%CHOL","carbon":16,"scd":0.293},{"series":"0:30%CHOL","carbon":17,"scd":0.26},{"series":"0:30%CHOL","carbon":18,"scd":0.074},
{"series":"0:40%CHOL","carbon":2,"scd":0.17},{"series":"0:40%CHOL","carbon":3,"scd":0.261},{"series":"0:40%CHOL","carbon":4,"scd":0.259},{"series":"0:40%CHOL","carbon":5,"scd":0.261},{"series":"0:40%CHOL","carbon":6,"scd":0.261},{"series":"0:40%CHOL","carbon":7,"scd":0.256},{"series":"0:40%CHOL","carbon":8,"scd":0.254},{"series":"0:40%CHOL","carbon":9,"scd":0.249},{"series":"0:40%CHOL","carbon":10,"scd":0.247},{"series":"0:40%CHOL","carbon":11,"scd":0.248},{"series":"0:40%CHOL","carbon":12,"scd":0.255},{"series":"0:40%CHOL","carbon":13,"scd":0.259},{"series":"0:40%CHOL","carbon":14,"scd":0.265},{"series":"0:40%CHOL","carbon":15,"scd":0.259},{"series":"0:40%CHOL","carbon":16,"scd":0.244},{"series":"0:40%CHOL","carbon":17,"scd":0.222},{"series":"0:40%CHOL","carbon":18,"scd":0.052},
{"series":"0:50%CHOL","carbon":2,"scd":0.175},{"series":"0:50%CHOL","carbon":3,"scd":0.268},{"series":"0:50%CHOL","carbon":4,"scd":0.274},{"series":"0:50%CHOL","carbon":5,"scd":0.287},{"series":"0:50%CHOL","carbon":6,"scd":0.278},{"series":"0:50%CHOL","carbon":7,"scd":0.279},{"series":"0:50%CHOL","carbon":8,"scd":0.276},{"series":"0:50%CHOL","carbon":9,"scd":0.278},{"series":"0:50%CHOL","carbon":10,"scd":0.27},{"series":"0:50%CHOL","carbon":11,"scd":0.27},{"series":"0:50%CHOL","carbon":12,"scd":0.265},{"series":"0:50%CHOL","carbon":13,"scd":0.266},{"series":"0:50%CHOL","carbon":14,"scd":0.264},{"series":"0:50%CHOL","carbon":15,"scd":0.267},{"series":"0:50%CHOL","carbon":16,"scd":0.258},{"series":"0:50%CHOL","carbon":17,"scd":0.244},{"series":"0:50%CHOL","carbon":18,"scd":0.058}
],
"b_l2":[
{"series":"0:10%CHOL","carbon":2,"scd":0.151},{"series":"0:10%CHOL","carbon":3,"scd":0.318},{"series":"0:10%CHOL","carbon":4,"scd":0.351},{"series":"0:10%CHOL","carbon":5,"scd":0.384},{"series":"0:10%CHOL","carbon":6,"scd":0.387},{"series":"0:10%CHOL","carbon":7,"scd":0.395},{"series":"0:10%CHOL","carbon":8,"scd":0.393},{"series":"0:10%CHOL","carbon":9,"scd":0.393},{"series":"0:10%CHOL","carbon":10,"scd":0.392},{"series":"0:10%CHOL","carbon":11,"scd":0.4},{"series":"0:10%CHOL","carbon":12,"scd":0.392},{"series":"0:10%CHOL","carbon":13,"scd":0.384},{"series":"0:10%CHOL","carbon":14,"scd":0.38},{"series":"0:10%CHOL","carbon":15,"scd":0.37},{"series":"0:10%CHOL","carbon":16,"scd":0.348},{"series":"0:10%CHOL","carbon":17,"scd":0.299},{"series":"0:10%CHOL","carbon":18,"scd":0.09},
{"series":"0:20%CHOL","carbon":2,"scd":0.162},{"series":"0:20%CHOL","carbon":3,"scd":0.315},{"series":"0:20%CHOL","carbon":4,"scd":0.347},{"series":"0:20%CHOL","carbon":5,"scd":0.373},{"series":"0:20%CHOL","carbon":6,"scd":0.381},{"series":"0:20%CHOL","carbon":7,"scd":0.392},{"series":"0:20%CHOL","carbon":8,"scd":0.396},{"series":"0:20%CHOL","carbon":9,"scd":0.397},{"series":"0:20%CHOL","carbon":10,"scd":0.395},{"series":"0:20%CHOL","carbon":11,"scd":0.397},{"series":"0:20%CHOL","carbon":12,"scd":0.387},{"series":"0:20%CHOL","carbon":13,"scd":0.378},{"series":"0:20%CHOL","carbon":14,"scd":0.37},{"series":"0:20%CHOL","carbon":15,"scd":0.363},{"series":"0:20%CHOL","carbon":16,"scd":0.342},{"series":"0:20%CHOL","carbon":17,"scd":0.288},{"series":"0:20%CHOL","carbon":18,"scd":0.088},
{"series":"0:30%CHOL","carbon":2,"scd":0.162},{"series":"0:30%CHOL","carbon":3,"scd":0.322},{"series":"0:30%CHOL","carbon":4,"scd":0.353},{"series":"0:30%CHOL","carbon":5,"scd":0.402},{"series":"0:30%CHOL","carbon":6,"scd":0.411},{"series":"0:30%CHOL","carbon":7,"scd":0.422},{"series":"0:30%CHOL","carbon":8,"scd":0.425},{"series":"0:30%CHOL","carbon":9,"scd":0.425},{"series":"0:30%CHOL","carbon":10,"scd":0.419},{"series":"0:30%CHOL","carbon":11,"scd":0.418},{"series":"0:30%CHOL","carbon":12,"scd":0.408},{"series":"0:30%CHOL","carbon":13,"scd":0.402},{"series":"0:30%CHOL","carbon":14,"scd":0.393},{"series":"0:30%CHOL","carbon":15,"scd":0.378},{"series":"0:30%CHOL","carbon":16,"scd":0.351},{"series":"0:30%CHOL","carbon":17,"scd":0.303},{"series":"0:30%CHOL","carbon":18,"scd":0.093},
{"series":"0:40%CHOL","carbon":2,"scd":0.151},{"series":"0:40%CHOL","carbon":3,"scd":0.312},{"series":"0:40%CHOL","carbon":4,"scd":0.345},{"series":"0:40%CHOL","carbon":5,"scd":0.389},{"series":"0:40%CHOL","carbon":6,"scd":0.404},{"series":"0:40%CHOL","carbon":7,"scd":0.416},{"series":"0:40%CHOL","carbon":8,"scd":0.419},{"series":"0:40%CHOL","carbon":9,"scd":0.42},{"series":"0:40%CHOL","carbon":10,"scd":0.414},{"series":"0:40%CHOL","carbon":11,"scd":0.404},{"series":"0:40%CHOL","carbon":12,"scd":0.392},{"series":"0:40%CHOL","carbon":13,"scd":0.384},{"series":"0:40%CHOL","carbon":14,"scd":0.373},{"series":"0:40%CHOL","carbon":15,"scd":0.353},{"series":"0:40%CHOL","carbon":16,"scd":0.318},{"series":"0:40%CHOL","carbon":17,"scd":0.271},{"series":"0:40%CHOL","carbon":18,"scd":0.085},
{"series":"0:50%CHOL","carbon":2,"scd":0.181},{"series":"0:50%CHOL","carbon":3,"scd":0.312},{"series":"0:50%CHOL","carbon":4,"scd":0.348},{"series":"0:50%CHOL","carbon":5,"scd":0.395},{"series":"0:50%CHOL","carbon":6,"scd":0.414},{"series":"0:50%CHOL","carbon":7,"scd":0.427},{"series":"0:50%CHOL","carbon":8,"scd":0.435},{"series":"0:50%CHOL","carbon":9,"scd":0.435},{"series":"0:50%CHOL","carbon":10,"scd":0.419},{"series":"0:50%CHOL","carbon":11,"scd":0.408},{"series":"0:50%CHOL","carbon":12,"scd":0.386},{"series":"0:50%CHOL","carbon":13,"scd":0.37},{"series":"0:50%CHOL","carbon":14,"scd":0.359},{"series":"0:50%CHOL","carbon":15,"scd":0.337},{"series":"0:50%CHOL","carbon":16,"scd":0.296},{"series":"0:50%CHOL","carbon":17,"scd":0.233},{"series":"0:50%CHOL","carbon":18,"scd":0.071}
]
},
"concat":[
{"width":621,"height":512,"title":{"text":"Upper Leaflet sn1","offset":-49},"data":{"name":"a_u1"},
 "layer":[
  {"mark":{"type":"line","strokeWidth":7},
   "encoding":{
    "x":{"field":"carbon","type":"quantitative","scale":{"domain":[0,20],"nice":false,"zero":false},"axis":{"orient":"bottom","values":[0,5,10,15,20],"title":null,"labelPadding":36}},
    "y":{"field":"scd","type":"quantitative","scale":{"domain":[0,0.6],"nice":false},"axis":{"orient":"left","values":[0,0.1,0.2,0.3,0.4,0.5,0.6],"format":".1~f","title":"−Sᴄᴅ"}},
    "color":{"field":"series","type":"nominal","scale":{"domain":["0%CHOL","10%CHOL","20%CHOL","30%CHOL","40%CHOL","50%CHOL"],"range":["#ff7f50","#9400d3","#a08020","#000080","#20b020","#dda0dd"]},
     "legend":{"orient":"none","legendX":24,"legendY":-214,"direction":"horizontal","columns":6,"title":null,"symbolType":"stroke","symbolSize":2209,"symbolStrokeWidth":12,"labelFont":"Liberation Serif","labelFontSize":44,"labelColor":"black","labelAlign":"right","labelOffset":-80,"columnPadding":-10,"gridAlign":"all","labelLimit":500,"padding":0,"symbolOffset":0,"encode":{"symbols":{"update":{"strokeWidth":{"value":12},"strokeCap":{"value":"butt"}}}}}}
   }},
  {"mark":{"type":"line","opacity":0},
   "encoding":{
    "x":{"field":"carbon","type":"quantitative","axis":{"orient":"top","values":[0,5,10,15,20],"labels":false,"title":null}},
    "y":{"field":"scd","type":"quantitative","axis":{"orient":"right","values":[0,0.1,0.2,0.3,0.4,0.5,0.6],"labels":false,"title":null}},
    "detail":{"field":"series"}
   }},
  {"data":{"values":[{"label":"A"}]},
   "mark":{"type":"text","align":"left","baseline":"middle","font":"Liberation Serif","fontSize":44,"color":"black"},
   "encoding":{"x":{"datum":0.2,"type":"quantitative","axis":null},"y":{"datum":0.648,"type":"quantitative","axis":null},"text":{"field":"label"}}}
 ],
 "resolve":{"axis":{"x":"independent","y":"independent"}}
},
{"width":666,"height":512,"title":{"text":"Lower Leaflet sn1"},"data":{"name":"a_l1"},
 "layer":[
  {"mark":{"type":"line","strokeWidth":7},
   "encoding":{
    "x":{"field":"carbon","type":"quantitative","scale":{"domain":[0,20],"nice":false,"zero":false},"axis":{"orient":"bottom","values":[0,5,10,15,20],"title":null,"labelPadding":36}},
    "y":{"field":"scd","type":"quantitative","scale":{"domain":[0,0.6],"nice":false},"axis":{"orient":"left","values":[0,0.1,0.2,0.3,0.4,0.5,0.6],"format":".1~f","title":null}},
    "color":{"field":"series","type":"nominal","scale":{"domain":["0%CHOL","10%CHOL","20%CHOL","30%CHOL","40%CHOL","50%CHOL"],"range":["#ff7f50","#9400d3","#a08020","#000080","#20b020","#dda0dd"]},
     "legend":{"orient":"none","legendX":24,"legendY":-214,"direction":"horizontal","columns":6,"title":null,"symbolType":"stroke","symbolSize":2209,"symbolStrokeWidth":12,"labelFont":"Liberation Serif","labelFontSize":44,"labelColor":"black","labelAlign":"right","labelOffset":-80,"columnPadding":-10,"gridAlign":"all","labelLimit":500,"padding":0,"symbolOffset":0,"encode":{"symbols":{"update":{"strokeWidth":{"value":12},"strokeCap":{"value":"butt"}}}}}}
   }},
  {"mark":{"type":"line","opacity":0},
   "encoding":{
    "x":{"field":"carbon","type":"quantitative","axis":{"orient":"top","values":[0,5,10,15,20],"labels":false,"title":null}},
    "y":{"field":"scd","type":"quantitative","axis":{"orient":"right","values":[0,0.1,0.2,0.3,0.4,0.5,0.6],"labels":false,"title":null}},
    "detail":{"field":"series"}
   }}
 ],
 "resolve":{"axis":{"x":"independent","y":"independent"}}
},
{"width":624,"height":512,"title":{"text":"Upper Leaflet sn1","offset":-49},"data":{"name":"b_u1"},
 "layer":[
  {"mark":{"type":"line","strokeWidth":7},
   "encoding":{
    "x":{"field":"carbon","type":"quantitative","scale":{"domain":[0,20],"nice":false,"zero":false},"axis":{"orient":"bottom","values":[0,5,10,15,20],"title":null,"labelPadding":36}},
    "y":{"field":"scd","type":"quantitative","scale":{"domain":[0,0.6],"nice":false},"axis":{"orient":"left","values":[0,0.1,0.2,0.3,0.4,0.5,0.6],"format":".1~f","title":"−Sᴄᴅ"}},
    "stroke":{"field":"series","type":"nominal","scale":{"domain":["0:10%CHOL","0:20%CHOL","0:30%CHOL","0:40%CHOL","0:50%CHOL"],"range":["#ee3333","#ffd42a","#a52a2a","#4169e1","#2e8b57"]},
     "legend":{"orient":"none","legendX":1903,"legendY":-214,"direction":"horizontal","columns":5,"title":null,"symbolType":"stroke","symbolSize":2209,"symbolStrokeWidth":12,"labelFont":"Liberation Serif","labelFontSize":44,"labelColor":"black","labelAlign":"right","labelOffset":-80,"columnPadding":11,"gridAlign":"all","labelLimit":500,"padding":0,"symbolOffset":0,"encode":{"symbols":{"update":{"strokeWidth":{"value":12},"strokeCap":{"value":"butt"}}}}}}
   }},
  {"mark":{"type":"line","opacity":0},
   "encoding":{
    "x":{"field":"carbon","type":"quantitative","axis":{"orient":"top","values":[0,5,10,15,20],"labels":false,"title":null}},
    "y":{"field":"scd","type":"quantitative","axis":{"orient":"right","values":[0,0.1,0.2,0.3,0.4,0.5,0.6],"labels":false,"title":null}},
    "detail":{"field":"series"}
   }},
  {"data":{"values":[{"label":"B"}]},
   "mark":{"type":"text","align":"left","baseline":"middle","font":"Liberation Serif","fontSize":44,"color":"black"},
   "encoding":{"x":{"datum":0.35,"type":"quantitative","axis":null},"y":{"datum":0.648,"type":"quantitative","axis":null},"text":{"field":"label"}}}
 ],
 "resolve":{"axis":{"x":"independent","y":"independent"}}
},
{"width":671,"height":512,"title":{"text":"Lower Leaflet sn1"},"data":{"name":"b_l1"},
 "layer":[
  {"mark":{"type":"line","strokeWidth":7},
   "encoding":{
    "x":{"field":"carbon","type":"quantitative","scale":{"domain":[0,20],"nice":false,"zero":false},"axis":{"orient":"bottom","values":[0,5,10,15,20],"title":null,"labelPadding":36}},
    "y":{"field":"scd","type":"quantitative","scale":{"domain":[0,0.6],"nice":false},"axis":{"orient":"left","values":[0,0.1,0.2,0.3,0.4,0.5,0.6],"format":".1~f","title":null}},
    "stroke":{"field":"series","type":"nominal","scale":{"domain":["0:10%CHOL","0:20%CHOL","0:30%CHOL","0:40%CHOL","0:50%CHOL"],"range":["#ee3333","#ffd42a","#a52a2a","#4169e1","#2e8b57"]},
     "legend":{"orient":"none","legendX":1903,"legendY":-214,"direction":"horizontal","columns":5,"title":null,"symbolType":"stroke","symbolSize":2209,"symbolStrokeWidth":12,"labelFont":"Liberation Serif","labelFontSize":44,"labelColor":"black","labelAlign":"right","labelOffset":-80,"columnPadding":11,"gridAlign":"all","labelLimit":500,"padding":0,"symbolOffset":0,"encode":{"symbols":{"update":{"strokeWidth":{"value":12},"strokeCap":{"value":"butt"}}}}}}
   }},
  {"mark":{"type":"line","opacity":0},
   "encoding":{
    "x":{"field":"carbon","type":"quantitative","axis":{"orient":"top","values":[0,5,10,15,20],"labels":false,"title":null}},
    "y":{"field":"scd","type":"quantitative","axis":{"orient":"right","values":[0,0.1,0.2,0.3,0.4,0.5,0.6],"labels":false,"title":null}},
    "detail":{"field":"series"}
   }}
 ],
 "resolve":{"axis":{"x":"independent","y":"independent"}}
},
{"width":621,"height":512,"title":{"text":"Upper Leaflet sn2"},"data":{"name":"a_u2"},
 "layer":[
  {"mark":{"type":"line","strokeWidth":7},
   "encoding":{
    "x":{"field":"carbon","type":"quantitative","scale":{"domain":[0,20],"nice":false,"zero":false},"axis":{"orient":"bottom","values":[0,5,10,15,20],"title":"# Carbon Number","labelPadding":40}},
    "y":{"field":"scd","type":"quantitative","scale":{"domain":[0,0.6],"nice":false},"axis":{"orient":"left","values":[0,0.1,0.2,0.3,0.4,0.5,0.6],"format":".1~f","title":"−Sᴄᴅ"}},
    "color":{"field":"series","type":"nominal","scale":{"domain":["0%CHOL","10%CHOL","20%CHOL","30%CHOL","40%CHOL","50%CHOL"],"range":["#ff7f50","#9400d3","#a08020","#000080","#20b020","#dda0dd"]},
     "legend":{"orient":"none","legendX":24,"legendY":-214,"direction":"horizontal","columns":6,"title":null,"symbolType":"stroke","symbolSize":2209,"symbolStrokeWidth":12,"labelFont":"Liberation Serif","labelFontSize":44,"labelColor":"black","labelAlign":"right","labelOffset":-80,"columnPadding":-10,"gridAlign":"all","labelLimit":500,"padding":0,"symbolOffset":0,"encode":{"symbols":{"update":{"strokeWidth":{"value":12},"strokeCap":{"value":"butt"}}}}}}
   }},
  {"mark":{"type":"line","opacity":0},
   "encoding":{
    "x":{"field":"carbon","type":"quantitative","axis":{"orient":"top","values":[0,5,10,15,20],"labels":false,"title":null}},
    "y":{"field":"scd","type":"quantitative","axis":{"orient":"right","values":[0,0.1,0.2,0.3,0.4,0.5,0.6],"labels":false,"title":null}},
    "detail":{"field":"series"}
   }}
 ],
 "resolve":{"axis":{"x":"independent","y":"independent"}}
},
{"width":666,"height":512,"title":{"text":"Lower Leaflet sn2"},"data":{"name":"a_l2"},
 "layer":[
  {"transform":[{"filter":"datum.series === '10%CHOL'"}],
   "mark":{"type":"line","strokeWidth":3.5},
   "encoding":{
    "x":{"field":"carbon","type":"quantitative","scale":{"domain":[0,20],"nice":false,"zero":false},"axis":null},
    "y":{"field":"scd","type":"quantitative","scale":{"domain":[0,0.6],"nice":false},"axis":null},
    "color":{"field":"series","type":"nominal","scale":{"domain":["0%CHOL","10%CHOL","20%CHOL","30%CHOL","40%CHOL","50%CHOL"],"range":["#ff7f50","#9400d3","#a08020","#000080","#20b020","#dda0dd"]},
     "legend":{"orient":"none","legendX":24,"legendY":-214,"direction":"horizontal","columns":6,"title":null,"symbolType":"stroke","symbolSize":2209,"symbolStrokeWidth":12,"labelFont":"Liberation Serif","labelFontSize":44,"labelColor":"black","labelAlign":"right","labelOffset":-80,"columnPadding":-10,"gridAlign":"all","labelLimit":500,"padding":0,"symbolOffset":0,"encode":{"symbols":{"update":{"strokeWidth":{"value":12},"strokeCap":{"value":"butt"}}}}}}
   }},
  {"transform":[{"filter":"datum.series !== '10%CHOL'"}],
   "mark":{"type":"line","strokeWidth":7},
   "encoding":{
    "x":{"field":"carbon","type":"quantitative","axis":{"orient":"bottom","values":[0,5,10,15,20],"title":"# Carbon Number","labelPadding":40}},
    "y":{"field":"scd","type":"quantitative","axis":{"orient":"left","values":[0,0.1,0.2,0.3,0.4,0.5,0.6],"format":".1~f","title":null}},
    "color":{"field":"series","type":"nominal","scale":{"domain":["0%CHOL","10%CHOL","20%CHOL","30%CHOL","40%CHOL","50%CHOL"],"range":["#ff7f50","#9400d3","#a08020","#000080","#20b020","#dda0dd"]},
     "legend":{"orient":"none","legendX":24,"legendY":-214,"direction":"horizontal","columns":6,"title":null,"symbolType":"stroke","symbolSize":2209,"symbolStrokeWidth":12,"labelFont":"Liberation Serif","labelFontSize":44,"labelColor":"black","labelAlign":"right","labelOffset":-80,"columnPadding":-10,"gridAlign":"all","labelLimit":500,"padding":0,"symbolOffset":0,"encode":{"symbols":{"update":{"strokeWidth":{"value":12},"strokeCap":{"value":"butt"}}}}}}
   }},
  {"mark":{"type":"line","opacity":0},
   "encoding":{
    "x":{"field":"carbon","type":"quantitative","axis":{"orient":"top","values":[0,5,10,15,20],"labels":false,"title":null}},
    "y":{"field":"scd","type":"quantitative","axis":{"orient":"right","values":[0,0.1,0.2,0.3,0.4,0.5,0.6],"labels":false,"title":null}},
    "detail":{"field":"series"}
   }}
 ],
 "resolve":{"axis":{"x":"independent","y":"independent"}}
},
{"width":624,"height":512,"title":{"text":"Upper Leaflet sn2"},"data":{"name":"b_u2"},
 "layer":[
  {"mark":{"type":"line","strokeWidth":7},
   "encoding":{
    "x":{"field":"carbon","type":"quantitative","scale":{"domain":[0,20],"nice":false,"zero":false},"axis":{"orient":"bottom","values":[0,5,10,15,20],"title":"# Carbon Number","labelPadding":40}},
    "y":{"field":"scd","type":"quantitative","scale":{"domain":[0,0.6],"nice":false},"axis":{"orient":"left","values":[0,0.1,0.2,0.3,0.4,0.5,0.6],"format":".1~f","title":"−Sᴄᴅ"}},
    "stroke":{"field":"series","type":"nominal","scale":{"domain":["0:10%CHOL","0:20%CHOL","0:30%CHOL","0:40%CHOL","0:50%CHOL"],"range":["#ee3333","#ffd42a","#a52a2a","#4169e1","#2e8b57"]},
     "legend":{"orient":"none","legendX":1903,"legendY":-214,"direction":"horizontal","columns":5,"title":null,"symbolType":"stroke","symbolSize":2209,"symbolStrokeWidth":12,"labelFont":"Liberation Serif","labelFontSize":44,"labelColor":"black","labelAlign":"right","labelOffset":-80,"columnPadding":11,"gridAlign":"all","labelLimit":500,"padding":0,"symbolOffset":0,"encode":{"symbols":{"update":{"strokeWidth":{"value":12},"strokeCap":{"value":"butt"}}}}}}
   }},
  {"mark":{"type":"line","opacity":0},
   "encoding":{
    "x":{"field":"carbon","type":"quantitative","axis":{"orient":"top","values":[0,5,10,15,20],"labels":false,"title":null}},
    "y":{"field":"scd","type":"quantitative","axis":{"orient":"right","values":[0,0.1,0.2,0.3,0.4,0.5,0.6],"labels":false,"title":null}},
    "detail":{"field":"series"}
   }}
 ],
 "resolve":{"axis":{"x":"independent","y":"independent"}}
},
{"width":671,"height":512,"title":{"text":"Lower Leaflet sn2"},"data":{"name":"b_l2"},
 "layer":[
  {"mark":{"type":"line","strokeWidth":7},
   "encoding":{
    "x":{"field":"carbon","type":"quantitative","scale":{"domain":[0,20],"nice":false,"zero":false},"axis":{"orient":"bottom","values":[0,5,10,15,20],"title":"# Carbon Number","labelPadding":40}},
    "y":{"field":"scd","type":"quantitative","scale":{"domain":[0,0.6],"nice":false},"axis":{"orient":"left","values":[0,0.1,0.2,0.3,0.4,0.5,0.6],"format":".1~f","title":null}},
    "stroke":{"field":"series","type":"nominal","scale":{"domain":["0:10%CHOL","0:20%CHOL","0:30%CHOL","0:40%CHOL","0:50%CHOL"],"range":["#ee3333","#ffd42a","#a52a2a","#4169e1","#2e8b57"]},
     "legend":{"orient":"none","legendX":1903,"legendY":-214,"direction":"horizontal","columns":5,"title":null,"symbolType":"stroke","symbolSize":2209,"symbolStrokeWidth":12,"labelFont":"Liberation Serif","labelFontSize":44,"labelColor":"black","labelAlign":"right","labelOffset":-80,"columnPadding":11,"gridAlign":"all","labelLimit":500,"padding":0,"symbolOffset":0,"encode":{"symbols":{"update":{"strokeWidth":{"value":12},"strokeCap":{"value":"butt"}}}}}}
   }},
  {"mark":{"type":"line","opacity":0},
   "encoding":{
    "x":{"field":"carbon","type":"quantitative","axis":{"orient":"top","values":[0,5,10,15,20],"labels":false,"title":null}},
    "y":{"field":"scd","type":"quantitative","axis":{"orient":"right","values":[0,0.1,0.2,0.3,0.4,0.5,0.6],"labels":false,"title":null}},
    "detail":{"field":"series"}
   }}
 ],
 "resolve":{"axis":{"x":"independent","y":"independent"}}
}
]
}
